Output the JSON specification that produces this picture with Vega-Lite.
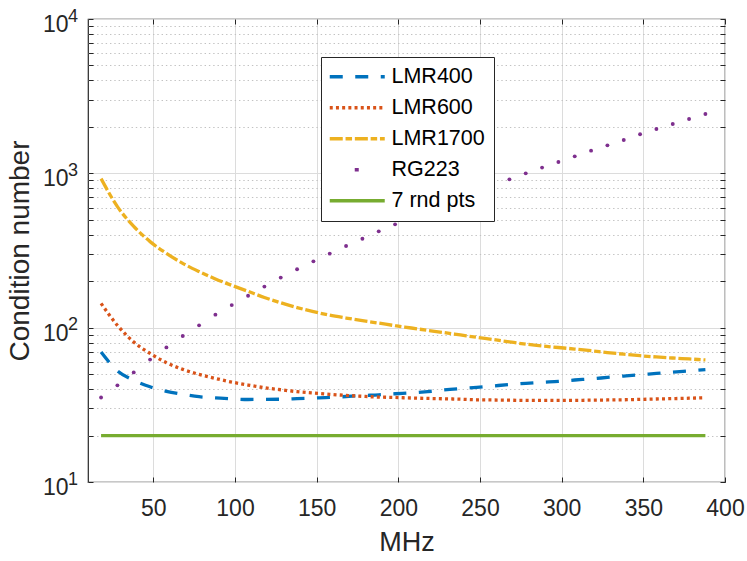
{
  "$schema": "https://vega.github.io/schema/vega-lite/v6.json",
  "width": 637,
  "height": 463,
  "autosize": {"type": "none"},
  "padding": {"left": 88, "top": 19, "right": 22, "bottom": 79},
  "background": "white",
  "config": {
    "view": {"stroke": "#262626", "strokeWidth": 1.2},
    "font": "Liberation Sans"
  },
  "datasets": {
    "curves": [
      {"f": 18, "LMR400": 69.5, "LMR600": 143.7, "LMR1700": 924, "RG223": 35.3, "7 rnd pts": 20},
      {"f": 28, "LMR400": 52.5, "LMR600": 103.5, "LMR1700": 609, "RG223": 42.3, "7 rnd pts": 20},
      {"f": 38, "LMR400": 45.6, "LMR600": 80.7, "LMR1700": 453, "RG223": 51.3, "7 rnd pts": 20},
      {"f": 48, "LMR400": 41.4, "LMR600": 68.1, "LMR1700": 361, "RG223": 62.1, "7 rnd pts": 20},
      {"f": 58, "LMR400": 38.7, "LMR600": 59.3, "LMR1700": 303, "RG223": 74.5, "7 rnd pts": 20},
      {"f": 68, "LMR400": 37.0, "LMR600": 53.7, "LMR1700": 261, "RG223": 88.3, "7 rnd pts": 20},
      {"f": 78, "LMR400": 35.7, "LMR600": 49.8, "LMR1700": 231, "RG223": 103.5, "7 rnd pts": 20},
      {"f": 88, "LMR400": 35.1, "LMR600": 46.9, "LMR1700": 207, "RG223": 121.4, "7 rnd pts": 20},
      {"f": 98, "LMR400": 34.55, "LMR600": 44.4, "LMR1700": 188, "RG223": 140, "7 rnd pts": 20},
      {"f": 108, "LMR400": 34.25, "LMR600": 42.5, "LMR1700": 172, "RG223": 161, "7 rnd pts": 20},
      {"f": 118, "LMR400": 34.3, "LMR600": 40.8, "LMR1700": 157, "RG223": 184.5, "7 rnd pts": 20},
      {"f": 128, "LMR400": 34.4, "LMR600": 39.6, "LMR1700": 145, "RG223": 211, "7 rnd pts": 20},
      {"f": 138, "LMR400": 34.7, "LMR600": 38.5, "LMR1700": 135, "RG223": 239, "7 rnd pts": 20},
      {"f": 148, "LMR400": 35.0, "LMR600": 37.7, "LMR1700": 127, "RG223": 269, "7 rnd pts": 20},
      {"f": 158, "LMR400": 35.3, "LMR600": 37.0, "LMR1700": 120.5, "RG223": 302, "7 rnd pts": 20},
      {"f": 168, "LMR400": 35.8, "LMR600": 36.4, "LMR1700": 115.5, "RG223": 338, "7 rnd pts": 20},
      {"f": 178, "LMR400": 36.3, "LMR600": 35.9, "LMR1700": 111, "RG223": 377, "7 rnd pts": 20},
      {"f": 188, "LMR400": 36.7, "LMR600": 35.5, "LMR1700": 107, "RG223": 421, "7 rnd pts": 20},
      {"f": 198, "LMR400": 37.3, "LMR600": 35.3, "LMR1700": 103, "RG223": 467, "7 rnd pts": 20},
      {"f": 208, "LMR400": 37.8, "LMR600": 35.0, "LMR1700": 99.5, "RG223": 516, "7 rnd pts": 20},
      {"f": 218, "LMR400": 38.5, "LMR600": 34.8, "LMR1700": 96, "RG223": 567, "7 rnd pts": 20},
      {"f": 228, "LMR400": 39.5, "LMR600": 34.6, "LMR1700": 92.9, "RG223": 623, "7 rnd pts": 20},
      {"f": 238, "LMR400": 40.3, "LMR600": 34.4, "LMR1700": 89.7, "RG223": 685, "7 rnd pts": 20},
      {"f": 248, "LMR400": 41.0, "LMR600": 34.1, "LMR1700": 86.6, "RG223": 752, "7 rnd pts": 20},
      {"f": 258, "LMR400": 41.9, "LMR600": 34.0, "LMR1700": 83.8, "RG223": 827, "7 rnd pts": 20},
      {"f": 268, "LMR400": 42.8, "LMR600": 33.9, "LMR1700": 80.9, "RG223": 914, "7 rnd pts": 20},
      {"f": 278, "LMR400": 43.6, "LMR600": 33.8, "LMR1700": 78.2, "RG223": 1000, "7 rnd pts": 20},
      {"f": 288, "LMR400": 44.3, "LMR600": 33.8, "LMR1700": 76.1, "RG223": 1089, "7 rnd pts": 20},
      {"f": 298, "LMR400": 44.9, "LMR600": 33.8, "LMR1700": 74.4, "RG223": 1184, "7 rnd pts": 20},
      {"f": 308, "LMR400": 45.8, "LMR600": 33.8, "LMR1700": 72.7, "RG223": 1289, "7 rnd pts": 20},
      {"f": 318, "LMR400": 46.6, "LMR600": 33.9, "LMR1700": 70.9, "RG223": 1403, "7 rnd pts": 20},
      {"f": 328, "LMR400": 47.6, "LMR600": 34.0, "LMR1700": 69.0, "RG223": 1518, "7 rnd pts": 20},
      {"f": 338, "LMR400": 48.6, "LMR600": 34.1, "LMR1700": 67.3, "RG223": 1643, "7 rnd pts": 20},
      {"f": 348, "LMR400": 49.6, "LMR600": 34.3, "LMR1700": 65.8, "RG223": 1790, "7 rnd pts": 20},
      {"f": 358, "LMR400": 50.5, "LMR600": 34.5, "LMR1700": 64.6, "RG223": 1937, "7 rnd pts": 20},
      {"f": 368, "LMR400": 51.5, "LMR600": 34.7, "LMR1700": 63.6, "RG223": 2088, "7 rnd pts": 20},
      {"f": 378, "LMR400": 52.5, "LMR600": 34.9, "LMR1700": 62.7, "RG223": 2249, "7 rnd pts": 20},
      {"f": 388, "LMR400": 53.5, "LMR600": 35.2, "LMR1700": 61.8, "RG223": 2423, "7 rnd pts": 20}
    ],
    "decades": [
      {"v": 10, "e": "1"},
      {"v": 100, "e": "2"},
      {"v": 1000, "e": "3"},
      {"v": 10000, "e": "4"}
    ]
  },
  "resolve": {"axis": {"x": "independent", "y": "independent"}},
  "layer": [
    {
      "data": {"name": "curves"},
      "transform": [
        {"fold": ["LMR400", "LMR600", "LMR1700", "RG223", "7 rnd pts"], "as": ["cable", "v"]},
        {"filter": "datum.cable != 'RG223'"}
      ],
      "mark": {"type": "line", "strokeWidth": 3.3, "interpolate": "monotone"},
      "encoding": {
        "x": {
          "field": "f",
          "type": "quantitative",
          "scale": {"domain": [10, 400], "nice": false, "zero": false},
          "axis": {
            "orient": "bottom",
            "values": [50, 100, 150, 200, 250, 300, 350, 400],
            "domain": false,
            "grid": true,
            "gridColor": "#dcdcdc",
            "gridWidth": 1,
            "tickSize": -5,
            "tickColor": "#262626",
            "tickWidth": 1,
            "labelFontSize": 23,
            "labelColor": "#262626",
            "labelPadding": 20.5,
            "labelFlush": false,
            "labelOverlap": false,
            "labelBound": false,
            "title": "MHz",
            "titleFontSize": 27,
            "titleFontWeight": "normal",
            "titleColor": "#262626",
            "titlePadding": 9
          }
        },
        "y": {
          "field": "v",
          "type": "quantitative",
          "scale": {"type": "log", "domain": [10, 10000], "nice": false},
          "axis": {
            "orient": "left",
            "values": [10, 20, 30, 40, 50, 60, 70, 80, 90, 100, 200, 300, 400, 500, 600, 700, 800, 900, 1000, 2000, 3000, 4000, 5000, 6000, 7000, 8000, 9000, 10000],
            "labelExpr": "indexof([10, 100, 1000, 10000], datum.value) >= 0 ? '10' : ''",
            "domain": false,
            "grid": true,
            "gridColor": {"condition": {"test": "indexof([10, 100, 1000, 10000], datum.value) >= 0", "value": "#dcdcdc"}, "value": "#c2c2c2"},
            "gridDash": {"condition": {"test": "indexof([10, 100, 1000, 10000], datum.value) >= 0", "value": []}, "value": [1.4, 2.9]},
            "tickSize": -5,
            "tickColor": "#262626",
            "tickWidth": 1,
            "labelFontSize": 23,
            "labelColor": "#262626",
            "labelPadding": 25,
            "labelBaseline": "alphabetic",
            "labelOffset": 12.5,
            "labelFlush": false,
            "labelOverlap": false,
            "labelBound": false,
            "title": "Condition number",
            "titleFontSize": 28,
            "titleFontWeight": "normal",
            "titleColor": "#262626",
            "titlePadding": 8
          }
        },
        "color": {
          "field": "cable",
          "type": "nominal",
          "scale": {
            "domain": ["LMR400", "LMR600", "LMR1700", "RG223", "7 rnd pts"],
            "range": ["#0072BD", "#D95319", "#EDB120", "#7E2F8E", "#77AC30"]
          },
          "legend": {
            "title": null,
            "orient": "none",
            "legendX": 233,
            "legendY": 38,
            "fillColor": "white",
            "strokeColor": "#262626",
            "padding": 9,
            "rowPadding": 8,
            "symbolType": "M-2,0H8",
            "symbolSize": 121,
            "symbolStrokeWidth": 3.3,
            "labelFontSize": 21.5,
            "labelColor": "black",
            "labelOffset": 40
          }
        },
        "strokeDash": {
          "field": "cable",
          "type": "nominal",
          "scale": {
            "domain": ["LMR400", "LMR600", "LMR1700", "RG223", "7 rnd pts"],
            "range": [[13, 12.5], [3, 3.2], [13, 2.8, 6.5, 2.8], [0, 25, 4, 1000], [1, 0]]
          },
          "legend": {
            "title": null,
            "orient": "none",
            "legendX": 233,
            "legendY": 38,
            "fillColor": "white",
            "strokeColor": "#262626",
            "padding": 9,
            "rowPadding": 8,
            "symbolType": "M-2,0H8",
            "symbolSize": 121,
            "symbolStrokeWidth": 3.3,
            "labelFontSize": 21.5,
            "labelColor": "black",
            "labelOffset": 40
          }
        }
      }
    },
    {
      "data": {"name": "curves"},
      "mark": {"type": "point", "shape": "circle", "filled": true, "size": 15, "opacity": 1, "color": "#7E2F8E"},
      "encoding": {
        "x": {
          "field": "f",
          "type": "quantitative",
          "scale": {"domain": [10, 400], "nice": false, "zero": false},
          "axis": {
            "orient": "top",
            "values": [50, 100, 150, 200, 250, 300, 350, 400],
            "labels": false,
            "domain": false,
            "grid": false,
            "tickSize": -5,
            "tickColor": "#262626",
            "title": null
          }
        },
        "y": {
          "field": "RG223",
          "type": "quantitative",
          "scale": {"type": "log", "domain": [10, 10000], "nice": false},
          "axis": {
            "orient": "right",
            "values": [10, 20, 30, 40, 50, 60, 70, 80, 90, 100, 200, 300, 400, 500, 600, 700, 800, 900, 1000, 2000, 3000, 4000, 5000, 6000, 7000, 8000, 9000, 10000],
            "labels": false,
            "domain": false,
            "grid": false,
            "tickSize": -5,
            "tickColor": "#262626",
            "title": null
          }
        }
      }
    },
    {
      "data": {"name": "decades"},
      "mark": {"type": "text", "align": "left", "baseline": "alphabetic", "dx": -20, "dy": 2.7, "fontSize": 18, "color": "#262626"},
      "encoding": {
        "x": {"datum": 10, "type": "quantitative", "axis": null},
        "y": {"field": "v", "type": "quantitative", "scale": {"type": "log"}, "axis": null},
        "text": {"field": "e"}
      }
    }
  ]
}
